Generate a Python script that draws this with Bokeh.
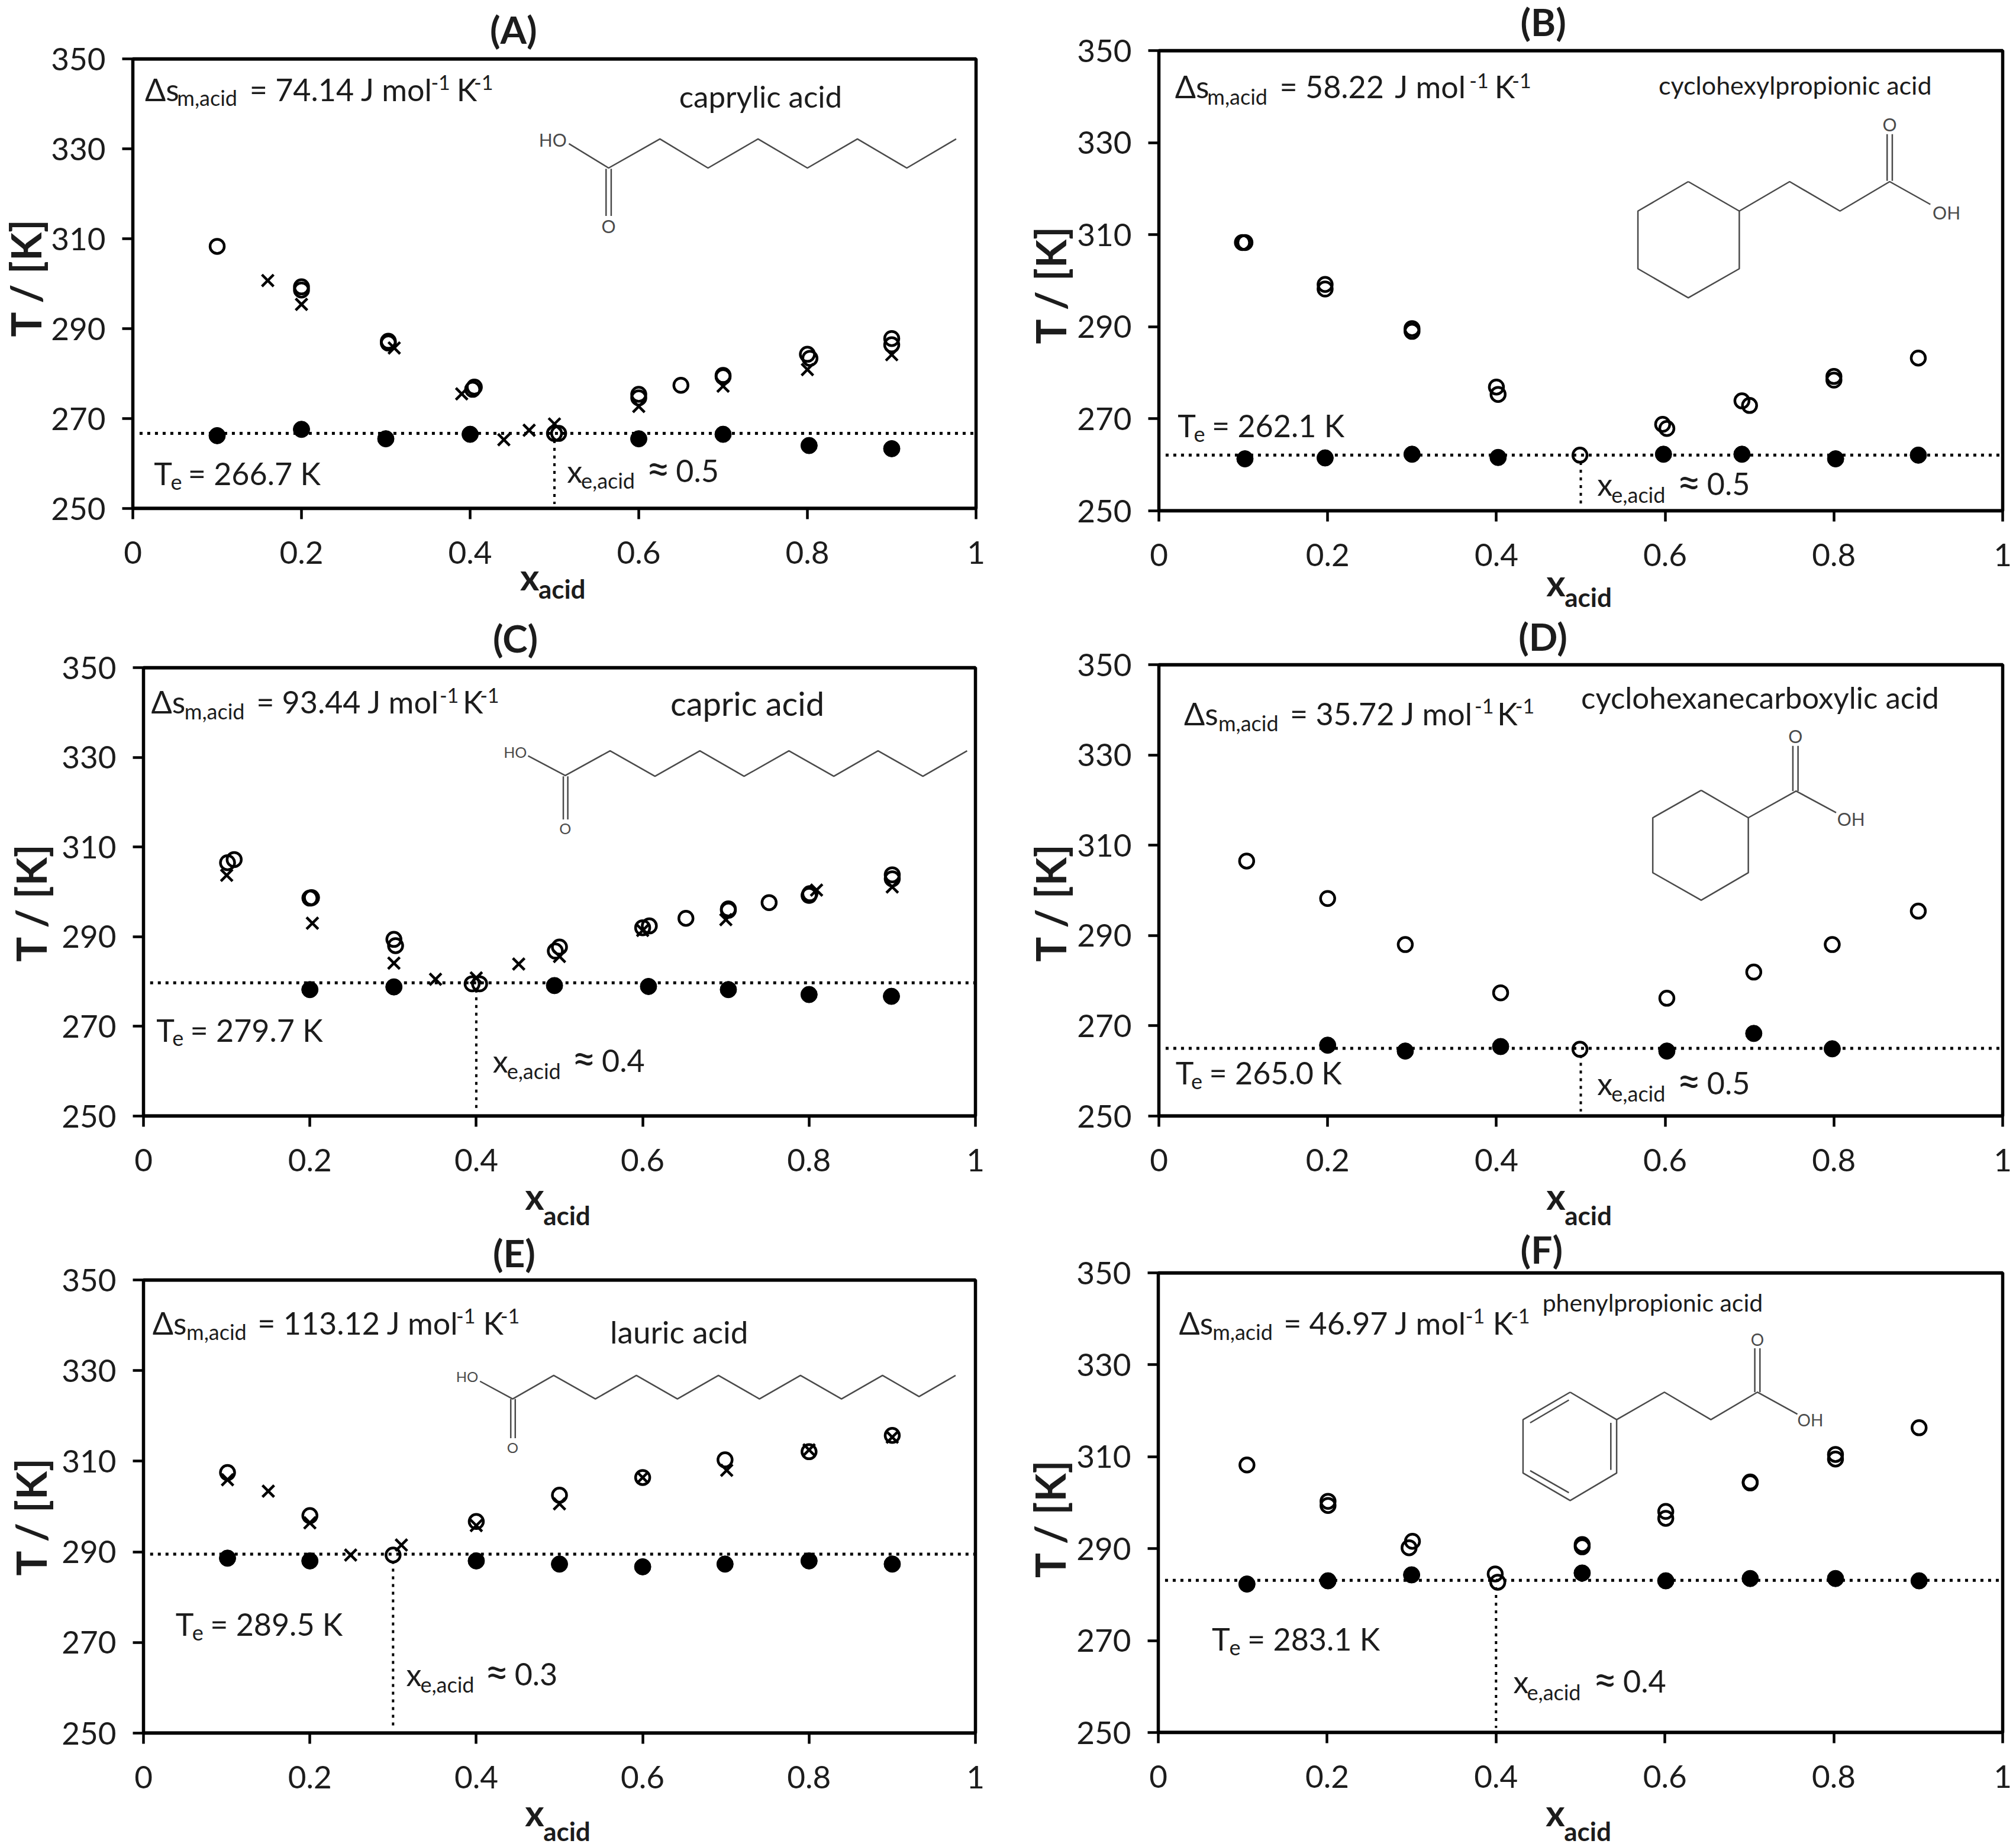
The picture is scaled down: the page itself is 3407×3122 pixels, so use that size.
from bokeh.plotting import figure
from bokeh.layouts import column, row
from bokeh.models import Label, Span, FixedTicker, Title
from bokeh.embed import file_html
from bokeh.resources import INLINE

# ---------- data ----------
x_ticks = [0, 0.2, 0.4, 0.6, 0.8, 1]
x_tick_labels = ["0", "0.2", "0.4", "0.6", "0.8", "1"]
T_ticks = [250, 270, 290, 310, 330, 350]

A_open_x = [.1, .2, .2, .303, .303, .403, .405, .6, .6, .65, .7, .7, .8, .803, .9, .9, .5, .505]
A_open_T = [308.3, 299.3, 298.6, 287.2, 286.8, 276.5, 277, 275.4, 274.6, 277.4, 279.6, 279.3, 284.3, 283.4, 287.8, 286.4, 266.7, 266.7]
A_cross_x = [.16, .2, .31, .39, .44, .47, .5, .6, .7, .8, .9]
A_cross_T = [300.7, 295.4, 285.7, 275.5, 265.3, 267.4, 268.8, 272.7, 277.2, 280.9, 284.2]
A_solid_x = [.1, .2, .3, .4, .6, .7, .802, .9]
A_solid_T = [266.2, 267.6, 265.5, 266.5, 265.5, 266.5, 264, 263.3]

B_open_x = [.099, .102, .197, .197, .3, .3, .4, .402, .597, .602, .691, .7, .8, .8, .9, .499]
B_open_T = [308.3, 308.3, 299.2, 298.2, 289.6, 289, 276.9, 275.3, 268.8, 267.9, 273.9, 272.9, 279.2, 278.4, 283.2, 262.1]
B_cross_x, B_cross_T = [], []
B_solid_x = [.102, .197, .3, .402, .598, .691, .802, .9]
B_solid_T = [261.3, 261.5, 262.3, 261.6, 262.3, 262.3, 261.3, 262.1]

C_open_x = [.101, .109, .2, .202, .301, .303, .395, .404, .495, .5, .6, .608, .652, .703, .703, .752, .8, .801, .9, .9]
C_open_T = [306.5, 307.2, 298.6, 298.7, 289.4, 288, 279.5, 279.5, 286.8, 287.7, 292, 292.4, 294.1, 295.9, 296.2, 297.6, 299.2, 299.6, 303.8, 302.9]
C_cross_x = [.1, .203, .301, .351, .4, .451, .5, .6, .7, .809, .9]
C_cross_T = [303.7, 293, 284.1, 280.5, 280.8, 283.9, 285.6, 291.4, 293.8, 300.4, 301.1]
C_solid_x = [.2, .301, .494, .607, .703, .8, .899]
C_solid_T = [278.2, 278.8, 279.1, 278.9, 278.2, 277.1, 276.7]

D_open_x = [.104, .2, .292, .405, .602, .705, .798, .9, .499]
D_open_T = [306.5, 298.2, 288, 277.3, 276.1, 281.9, 288, 295.4, 264.8]
D_cross_x, D_cross_T = [], []
D_solid_x = [.2, .292, .405, .602, .705, .798]
D_solid_T = [265.7, 264.4, 265.4, 264.4, 268.3, 264.9]

E_open_x = [.101, .2, .3, .4, .5, .6, .699, .8, .9]
E_open_T = [307.5, 298, 289.3, 296.7, 302.5, 306.4, 310.3, 312.1, 315.7]
E_cross_x = [.101, .15, .2, .249, .31, .4, .5, .6, .701, .8, .9]
E_cross_T = [305.9, 303.4, 296.4, 289.3, 291.5, 295.8, 300.6, 306.4, 308, 312.5, 315.3]
E_solid_x = [.101, .2, .4, .5, .6, .699, .8, .9]
E_solid_T = [288.6, 288, 288, 287.3, 286.7, 287.3, 288, 287.3]

F_open_x = [.105, .201, .201, .297, .301, .399, .402, .502, .502, .601, .601, .701, .701, .802, .802, .901]
F_open_T = [308.2, 300.3, 299.4, 290.2, 291.6, 284.5, 282.7, 290.9, 290.4, 298.1, 296.6, 304.3, 304.5, 310.5, 309.5, 316.3]
F_cross_x, F_cross_T = [], []
F_solid_x = [.105, .201, .3, .502, .601, .701, .802, .901]
F_solid_T = [282.3, 283, 284.3, 284.7, 283, 283.5, 283.5, 283]

panel_names = ["A", "B", "C", "D", "E", "F"]
acid_names = ["caprylic acid", "cyclohexylpropionic acid", "capric acid",
              "cyclohexanecarboxylic acid", "lauric acid", "phenylpropionic acid"]
entropy_texts = ["= 74.14 J mol", "= 58.22\u2009 J mol", "= 93.44 J mol",
                 "= 35.72 J mol", "= 113.12 J mol", "= 46.97 J mol"]
Te_values = [266.7, 262.1, 279.7, 265.0, 289.5, 283.1]
Xe_values = [0.5, 0.5, 0.4, 0.5, 0.3, 0.4]
Te_texts = ["= 266.7 K", "= 262.1 K", "= 279.7 K", "= 265.0 K", "= 289.5 K", "= 283.1 K"]

# ---------- layout calibration: reference position grid per panel ----------
SX = [0.923, 0.9165]   # grid px per image px, horizontally, per column
SY = 1.507             # grid px per image px, vertically
CELLS = {  # image offset of the panel grid, then x=0, x=1, T=350, T=250 on that grid
    "A": dict(ox=0, oy=0, x0=203, x1=1518, t1=152, t0=1297, dy=6),
    "B": dict(ox=1700, oy=0, x0=233, x1=1540, t1=132, t0=1305, dy=5),
    "C": dict(ox=0, oy=1040, x0=220, x1=1518, t1=135, t0=1278, dy=6),
    "D": dict(ox=1700, oy=1040, x0=233, x1=1540, t1=128, t0=1278, dy=6),
    "E": dict(ox=0, oy=2080, x0=220, x1=1518, t1=127, t0=1281, dy=7),
    "F": dict(ox=1700, oy=2080, x0=232, x1=1540, t1=108, t0=1279, dy=7),
}
PAGE_LIFT = 20     # the page is pulled up so the top row has room for its letters
ROW_OVERLAP = 44   # neighbouring rows overlap in their empty margins (borders are transparent)
ROW_TOP = [8 - PAGE_LIFT, 1016, 2056]
ROW_BOTTOM = [1060, 2100, 3150]
COL_LEFT = [8, 1700]
COL_W = [1692, 1699]

# annotation anchor positions on the panel grid
TITLE_POS = dict(A=(760, 112), B=(793, 95), C=(765, 97), D=(790, 95), E=(765, 100), F=(793, 100))
YLABEL_POS = dict(A=(48, 860), B=(75, 880), C=(48, 885), D=(75, 885), E=(48, 880), F=(75, 885))
XLABEL_POS = dict(A=(807, 1492, 1510), B=(833, 1518, 1528), C=(815, 1535, 1523),
                  D=(833, 1535, 1523), E=(815, 1535, 1523), F=(832, 1535, 1523))
ENTROPY_POS = {  # x of each run and three baselines
    "A": ((222, 272, 385, 668, 708, 735), (250, 266, 226)),
    "B": ((258, 308, 420, 714, 753, 780), (245, 263, 222)),
    "C": ((232, 284, 396, 682, 718, 745), (243, 260, 220)),
    "D": ((272, 325, 436, 722, 757, 785), (273, 291, 248)),
    "E": ((234, 287, 398, 708, 750, 777), (257, 273, 232)),
    "F": ((264, 316, 426, 708, 750, 778), (257, 273, 232)),
}
TE_POS = dict(A=(236, 262, 289, 1228, 1245), B=(262, 287, 315, 1108, 1125), C=(240, 265, 293, 1080, 1095),
              D=(259, 283, 311, 1188, 1205), E=(270, 296, 324, 1024, 1040), F=(315, 342, 370, 1062, 1078))
XE_POS = dict(A=(880, 902, 1003, 1222, 1240), B=(912, 934, 1035, 1258, 1278), C=(765, 787, 888, 1158, 1178),
              D=(912, 934, 1035, 1215, 1235), E=(630, 652, 752, 1152, 1172), F=(782, 803, 905, 1170, 1190))
NAME_POS = dict(A=(1055, 268, 51), B=(1007, 237, 43), C=(1042, 248, 56), D=(887, 232, 51), E=(948, 280, 53), F=(827, 200, 41))

# molecular sketches (illustrations inside the panels, on the panel grid)
MOLECULES = {
    "A": dict(lines=[[(883, 368), (945, 430), (1025, 356), (1100, 430), (1178, 356), (1255, 430), (1333, 356), (1410, 430), (1487, 356)],
                     [(941, 432), (941, 552)], [(949, 432), (949, 552)]],
              labels=[("HO", 858, 358, 30), ("O", 945, 578, 30)]),
    "B": dict(lines=[[(1053, 466), (1132, 541), (1132, 688), (1053, 762), (975, 688), (975, 541), (1053, 466)],
                     [(1132, 541), (1210, 466), (1288, 541), (1365, 466), (1428, 524)],
                     [(1361, 464), (1361, 345)], [(1369, 464), (1369, 345)]],
              labels=[("O", 1365, 320, 30), ("OH", 1453, 544, 30)]),
    "C": dict(lines=[[(820, 360), (878, 410), (948, 347), (1018, 412), (1088, 347), (1157, 412), (1227, 347), (1297, 412), (1366, 347), (1436, 412), (1505, 347)],
                     [(875, 412), (875, 522)], [(882, 412), (882, 522)]],
              labels=[("HO", 800, 350, 25), ("O", 878, 545, 25)]),
    "D": dict(lines=[[(1073, 448), (1146, 518), (1146, 658), (1073, 728), (998, 658), (998, 518), (1073, 448)],
                     [(1146, 518), (1220, 450), (1282, 505)],
                     [(1215, 450), (1215, 335)], [(1223, 450), (1223, 335)]],
              labels=[("O", 1219, 310, 30), ("OH", 1305, 520, 30)]),
    "E": dict(lines=[[(745, 385), (796, 430), (860, 370), (925, 430), (989, 370), (1053, 430), (1117, 370), (1181, 430), (1245, 370), (1309, 430), (1373, 370), (1430, 424), (1487, 370)],
                     [(793, 430), (793, 530)], [(800, 430), (800, 530)]],
              labels=[("HO", 725, 373, 24), ("O", 796, 553, 24)]),
    "F": dict(lines=[[(870, 412), (942, 482), (942, 618), (870, 688), (797, 618), (797, 482), (870, 412)],
                     [(808, 490), (868, 432)], [(933, 490), (933, 610)], [(808, 612), (868, 668)],
                     [(942, 482), (1016, 412), (1088, 482), (1160, 412), (1222, 468)],
                     [(1156, 412), (1156, 300)], [(1164, 412), (1164, 300)]],
              labels=[("O", 1160, 277, 28), ("OH", 1242, 483, 28)]),
}

FONT = "Lato"
INK = "#1c1c1c"
BOND = "#4a4a4a"
TITLE_PX, YLAB_PX, XLAB_PX, SUB_PX = 64, 70, 62, 44
X_STANDOFF, Y_STANDOFF = 37, 28
AXIS_W, AXIS_H = 129, 117   # space the tick marks and labels take beside the frame
BASELINE_LIFT = 0.27        # Label's alphabetic anchor sits low by this share of the font size


def make_panel(i):
    key = panel_names[i]
    c = CELLS[key]
    r, col = i // 2, i % 2
    sx = SX[col]

    def gx(zx):
        return (zx - c["x0"]) / (c["x1"] - c["x0"])

    def gy(zy):
        return 250 + (c["t0"] - zy) / (c["t0"] - c["t1"]) * 100

    left = c["x0"] / sx + c["ox"]
    right = c["x1"] / sx + c["ox"]
    top = c["t1"] / SY + c["oy"] + c["dy"]
    bottom = c["t0"] / SY + c["oy"] + c["dy"]
    fw, fh = round(right - left), round(bottom - top)
    b_left = round(left - COL_LEFT[col])
    b_top = round(top - ROW_TOP[r])
    b_right = COL_W[col] - b_left - fw
    b_bottom = ROW_BOTTOM[r] - ROW_TOP[r] - b_top - fh

    p = figure(frame_width=fw, frame_height=fh, x_range=(0, 1), y_range=(250, 350),
               min_border_left=b_left, min_border_right=b_right,
               min_border_top=b_top, min_border_bottom=b_bottom, frame_align=False,
               output_backend="svg", toolbar_location=None,
               background_fill_color="white", border_fill_color=None)
    p.grid.visible = False
    p.outline_line_color = "black"
    p.outline_line_width = 5.5

    p.xaxis.ticker = FixedTicker(ticks=x_ticks)
    p.xaxis.major_label_overrides = dict(zip(x_ticks, x_tick_labels))
    p.yaxis.ticker = FixedTicker(ticks=T_ticks)
    for ax, stand in ((p.xaxis, X_STANDOFF), (p.yaxis, Y_STANDOFF)):
        ax.axis_line_color = "black"
        ax.axis_line_width = 5
        ax.major_tick_line_color = "black"
        ax.major_tick_line_width = 4.5
        ax.major_tick_out = 18
        ax.major_tick_in = 0
        ax.minor_tick_line_color = None
        ax.major_label_standoff = stand
        ax.major_label_text_font = FONT
        ax.major_label_text_font_size = "53px"
        ax.major_label_text_color = INK

    def txt(s, zx, zy, size, bold=False, align="left", base="alphabetic", color=INK):
        lift = BASELINE_LIFT * size if base == "alphabetic" else 0
        p.add_layout(Label(x=gx(zx), y=gy(zy), y_offset=lift, text=s, text_font=FONT,
                           text_font_size=f"{size}px",
                           text_font_style="bold" if bold else "normal", text_color=color,
                           text_align=align, text_baseline=base))

    def side_title(s, where, size, offset, standoff, valign):
        p.add_layout(Title(text=s, align="left", offset=offset, standoff=standoff, vertical_align=valign,
                           text_font=FONT, text_font_size=f"{size}px", text_font_style="bold",
                           text_color=INK), where)

    # panel letter above the frame
    zx, zy = TITLE_POS[key]
    side_title(f"({key})", "above", TITLE_PX, (zx - c["x0"]) / sx,
               (c["t1"] - zy) / SY - 0.2 * TITLE_PX + 10, "bottom")
    # rotated axis title at the left, beyond the tick labels
    zx, zy = YLABEL_POS[key]
    side_title("T / [K]", "left", YLAB_PX, (c["t0"] - zy) / SY,
               (left - c["ox"]) - AXIS_W - zx / sx - 0.6 * YLAB_PX, "bottom")
    # x axis title: letter, then subscript stacked over it
    zx, zy1, zy2 = XLABEL_POS[key]
    x_off = (zx - c["x0"]) / sx
    s1 = (zy1 - c["t0"]) / SY - 0.8 * XLAB_PX - AXIS_H
    side_title("x", "below", XLAB_PX, x_off, s1, "top")
    next_top = AXIS_H + 2 + 1.2 * XLAB_PX + s1
    s2 = (zy2 - c["t0"]) / SY - 0.8 * SUB_PX - next_top
    side_title("acid", "below", SUB_PX, x_off + 31, s2, "top")

    # frame top and bottom rules
    for loc in (350, 250):
        p.add_layout(Span(location=loc, dimension="width", line_color="black", line_width=6))

    # molecule sketch
    mol = MOLECULES[key]
    for seg in mol["lines"]:
        p.line([gx(a) for a, _ in seg], [gy(b) for _, b in seg], line_color=BOND, line_width=2.5)
    for s, zx, zy, size in mol["labels"]:
        txt(s, zx, zy, size, align="center", base="middle", color=BOND)

    # eutectic guide lines
    Te, Xe = Te_values[i], Xe_values[i]
    p.line([0.008, 1], [Te, Te], line_color="black", line_width=5, line_dash="5 8")
    p.line([Xe, Xe], [Te - 1.5, 251], line_color="black", line_width=4, line_dash="5 8")

    g = globals()
    p.scatter(g[f"{key}_solid_x"], g[f"{key}_solid_T"], marker="circle", size=28,
              fill_color="black", line_color="black")
    p.scatter(g[f"{key}_open_x"], g[f"{key}_open_T"], marker="circle", size=24,
              fill_color=None, line_color="black", line_width=4.5)
    if g[f"{key}_cross_x"]:
        p.scatter(g[f"{key}_cross_x"], g[f"{key}_cross_T"], marker="x", size=28,
                  line_color="black", line_width=4.5)

    # entropy note
    xs, (main, sub, sup) = ENTROPY_POS[key]
    txt("Δs", xs[0], main, 52)
    txt("m,acid", xs[1], sub, 36)
    txt(entropy_texts[i], xs[2], main, 52)
    txt("-1", xs[3], sup, 34)
    txt("K", xs[4], main, 52)
    txt("-1", xs[5], sup, 34)

    # eutectic temperature and composition notes
    a, b, d, main, sub = TE_POS[key]
    txt("T", a, main, 52)
    txt("e", b, sub, 36)
    txt(Te_texts[i], d, main, 52)
    a, b, d, main, sub = XE_POS[key]
    txt("x", a, main, 52)
    txt("e,acid", b, sub, 36)
    txt("≈", d, main, 72)
    txt(f"{Xe}", d + 47, main, 52)

    # acid name
    zx, zy, size = NAME_POS[key]
    txt(acid_names[i], zx, zy, size)
    return p


panels = [make_panel(i) for i in range(6)]
overlap = {"margin-top": f"-{ROW_OVERLAP}px"}
page = column(row(panels[0], panels[1], spacing=0),
              row(panels[2], panels[3], spacing=0, styles=overlap),
              row(panels[4], panels[5], spacing=0, styles=overlap), spacing=0,
              styles={"margin-top": f"-{PAGE_LIFT}px"})
open("out.html", "w").write(file_html(page, INLINE))
